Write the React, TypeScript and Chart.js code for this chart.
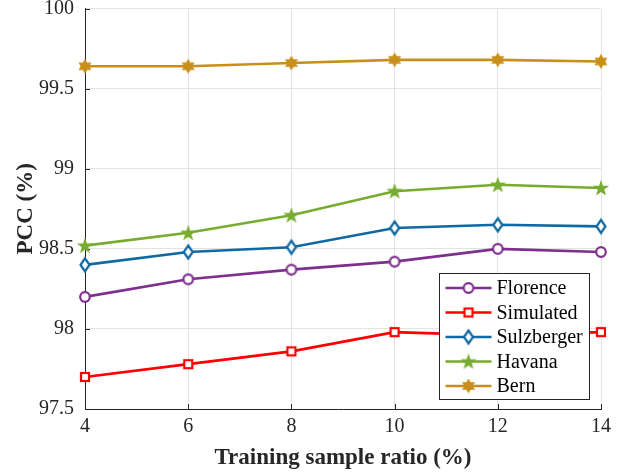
import React, { useEffect, useRef } from 'react';
import { Chart, registerables } from 'chart.js';

Chart.register(...registerables);

const xValues = [4, 6, 8, 10, 12, 14];
const florence = [98.2, 98.31, 98.37, 98.42, 98.5, 98.48];
const simulated = [97.7, 97.78, 97.86, 97.98, 97.96, 97.98];
const sulzberger = [98.4, 98.48, 98.51, 98.63, 98.65, 98.64];
const havana = [98.52, 98.6, 98.71, 98.86, 98.9, 98.88];
const bern = [99.64, 99.64, 99.66, 99.68, 99.68, 99.67];
const seriesNames = ['Florence', 'Simulated', 'Sulzberger', 'Havana', 'Bern'];
const xTickValues = [4, 6, 8, 10, 12, 14];
const yTickLabels = ['97.5', '98', '98.5', '99', '99.5', '100'];

const colors = ['#7E2F8E', '#FF0000', '#0F69A3', '#77AC30', '#C8901A'];
const markerKinds = ['circle', 'square', 'diamond', 'pentagram', 'hexagram'];

const SERIF = '"Liberation Serif", "Times New Roman", serif';
const TXT = '#262626';

function makeMarker(kind: string, color: string): HTMLCanvasElement {
  const c = document.createElement('canvas');
  const size = 18;
  c.width = size;
  c.height = size;
  const ctx = c.getContext('2d')!;
  const cx = size / 2;
  const cy = size / 2;
  ctx.strokeStyle = color;
  ctx.fillStyle = color;
  ctx.lineWidth = 2.2;
  ctx.lineJoin = 'miter';
  if (kind === 'circle') {
    ctx.beginPath();
    ctx.arc(cx, cy, 4.8, 0, Math.PI * 2);
    ctx.fillStyle = '#fff';
    ctx.fill();
    ctx.stroke();
  } else if (kind === 'square') {
    ctx.fillStyle = '#fff';
    ctx.fillRect(cx - 4, cy - 4, 8, 8);
    ctx.strokeRect(cx - 4, cy - 4, 8, 8);
  } else if (kind === 'diamond') {
    ctx.beginPath();
    ctx.moveTo(cx, cy - 6.5);
    ctx.lineTo(cx + 4.5, cy);
    ctx.lineTo(cx, cy + 6.5);
    ctx.lineTo(cx - 4.5, cy);
    ctx.closePath();
    ctx.fillStyle = '#fff';
    ctx.fill();
    ctx.stroke();
  } else if (kind === 'pentagram') {
    const R = 8.5;
    const r = 3.4;
    ctx.beginPath();
    for (let i = 0; i < 10; i++) {
      const a = -Math.PI / 2 + (i * Math.PI) / 5;
      const rr = i % 2 === 0 ? R : r;
      const px = cx + rr * Math.cos(a);
      const py = cy + 0.5 + rr * Math.sin(a);
      if (i === 0) ctx.moveTo(px, py);
      else ctx.lineTo(px, py);
    }
    ctx.closePath();
    ctx.fill();
  } else if (kind === 'hexagram') {
    const R = 7.5;
    const r = 4.3;
    ctx.beginPath();
    for (let i = 0; i < 12; i++) {
      const a = -Math.PI / 2 + (i * Math.PI) / 6;
      const rr = i % 2 === 0 ? R : r;
      const px = cx + rr * Math.cos(a);
      const py = cy + rr * Math.sin(a);
      if (i === 0) ctx.moveTo(px, py);
      else ctx.lineTo(px, py);
    }
    ctx.closePath();
    ctx.fill();
  }
  return c;
}

const insideTicksPlugin = {
  id: 'insideTicks',
  beforeDatasetsDraw(chart: any) {
    const { ctx, chartArea, scales } = chart;
    ctx.save();
    ctx.strokeStyle = TXT;
    ctx.lineWidth = 1;
    const len = 5;
    scales.y.ticks.forEach((t: any) => {
      const y = Math.round(scales.y.getPixelForValue(t.value)) + 0.5;
      ctx.beginPath();
      ctx.moveTo(chartArea.left, y);
      ctx.lineTo(chartArea.left + len, y);
      ctx.stroke();
    });
    scales.x.ticks.forEach((t: any) => {
      const x = Math.round(scales.x.getPixelForValue(t.value)) + 0.5;
      ctx.beginPath();
      ctx.moveTo(x, chartArea.bottom);
      ctx.lineTo(x, chartArea.bottom - len);
      ctx.stroke();
    });
    ctx.restore();
  },
};

const inlineLegendPlugin = {
  id: 'inlineLegend',
  afterDraw(chart: any) {
    const { ctx, chartArea } = chart;
    const w = 150;
    const h = 126;
    const x0 = Math.round(chartArea.right - 12 - w) + 0.5;
    const y0 = Math.round(chartArea.bottom - 10 - h) + 0.5;
    ctx.save();
    ctx.fillStyle = '#fff';
    ctx.fillRect(x0, y0, w, h);
    ctx.strokeStyle = TXT;
    ctx.lineWidth = 1;
    ctx.strokeRect(x0, y0, w, h);
    chart.data.datasets.forEach((ds: any, i: number) => {
      const yy = y0 + 14.5 + i * 24.5;
      ctx.strokeStyle = ds.borderColor;
      ctx.lineWidth = ds.borderWidth;
      ctx.beginPath();
      ctx.moveTo(x0 + 6, yy);
      ctx.lineTo(x0 + 52, yy);
      ctx.stroke();
      const img = ds.pointStyle as HTMLCanvasElement;
      ctx.drawImage(img, x0 + 29 - img.width / 2, yy - img.height / 2);
      ctx.fillStyle = '#000';
      ctx.font = `20px ${SERIF}`;
      ctx.textBaseline = 'middle';
      ctx.textAlign = 'left';
      ctx.fillText(ds.label, x0 + 57, yy + 1);
    });
    ctx.restore();
  },
};

export default function App() {
  const canvasRef = useRef<HTMLCanvasElement | null>(null);

  useEffect(() => {
    document.body.style.margin = '0';
    const seriesValues = [florence, simulated, sulzberger, havana, bern];
    const datasets = seriesNames.map((name, i) => ({
      label: name,
      data: xValues.map((x, j) => ({ x, y: seriesValues[i][j] })),
      borderColor: colors[i],
      backgroundColor: colors[i],
      borderWidth: 2.6,
      pointStyle: makeMarker(markerKinds[i], colors[i]),
      pointRadius: 6,
      pointHoverRadius: 6,
      tension: 0,
      clip: false as any,
    }));
    const chart = new Chart(canvasRef.current!, {
      type: 'line',
      data: { datasets },
      options: {
        responsive: false,
        animation: false,
        events: [],
        layout: { padding: { top: 6, right: 26, left: 0, bottom: 0 } },
        plugins: {
          legend: { display: false },
          tooltip: { enabled: false },
        },
        scales: {
          x: {
            type: 'linear',
            min: 4,
            max: 14,
            afterBuildTicks: (scale: any) => {
              scale.ticks = xTickValues.map((v) => ({ value: v }));
            },
            ticks: {
              color: TXT,
              font: { family: SERIF, size: 20 },
              padding: 6,
              maxRotation: 0,
              callback: (v: any) => String(v),
            },
            grid: { color: '#e3e3e3', drawTicks: false, lineWidth: 1 },
            border: { display: true, color: TXT, width: 1 },
            title: {
              display: true,
              text: 'Training sample ratio (%)',
              color: TXT,
              font: { family: SERIF, size: 23, weight: 'bold', lineHeight: 1.2 },
              padding: { top: 0, bottom: 1 },
            },
            afterFit: (scale: any) => {
              scale.height = 64;
              scale.paddingLeft = 0;
              scale.paddingRight = 0;
            },
          },
          y: {
            type: 'linear',
            min: 97.5,
            max: 100,
            afterBuildTicks: (scale: any) => {
              scale.ticks = yTickLabels.map((s) => ({ value: parseFloat(s) }));
            },
            ticks: {
              color: TXT,
              font: { family: SERIF, size: 20 },
              padding: 11,
              callback: (v: any) => {
                const idx = yTickLabels.findIndex((s) => Math.abs(parseFloat(s) - v) < 1e-9);
                return idx >= 0 ? yTickLabels[idx] : '';
              },
            },
            grid: { color: '#e3e3e3', drawTicks: false, lineWidth: 1 },
            border: { display: true, color: TXT, width: 1 },
            title: {
              display: true,
              text: 'PCC (%)',
              color: TXT,
              font: { family: SERIF, size: 23, weight: 'bold', lineHeight: 1.2 },
              padding: { top: 12, bottom: 0 },
            },
            afterFit: (scale: any) => {
              scale.width = 85;
              scale.paddingTop = 0;
              scale.paddingBottom = 0;
            },
          },
        },
      },
      plugins: [insideTicksPlugin, inlineLegendPlugin],
    });
    return () => {
      chart.destroy();
    };
  }, []);

  return (
    <div style={{ width: 627, height: 473 }}>
      <canvas ref={canvasRef} width={627} height={473} style={{ display: 'block' }} />
    </div>
  );
}
